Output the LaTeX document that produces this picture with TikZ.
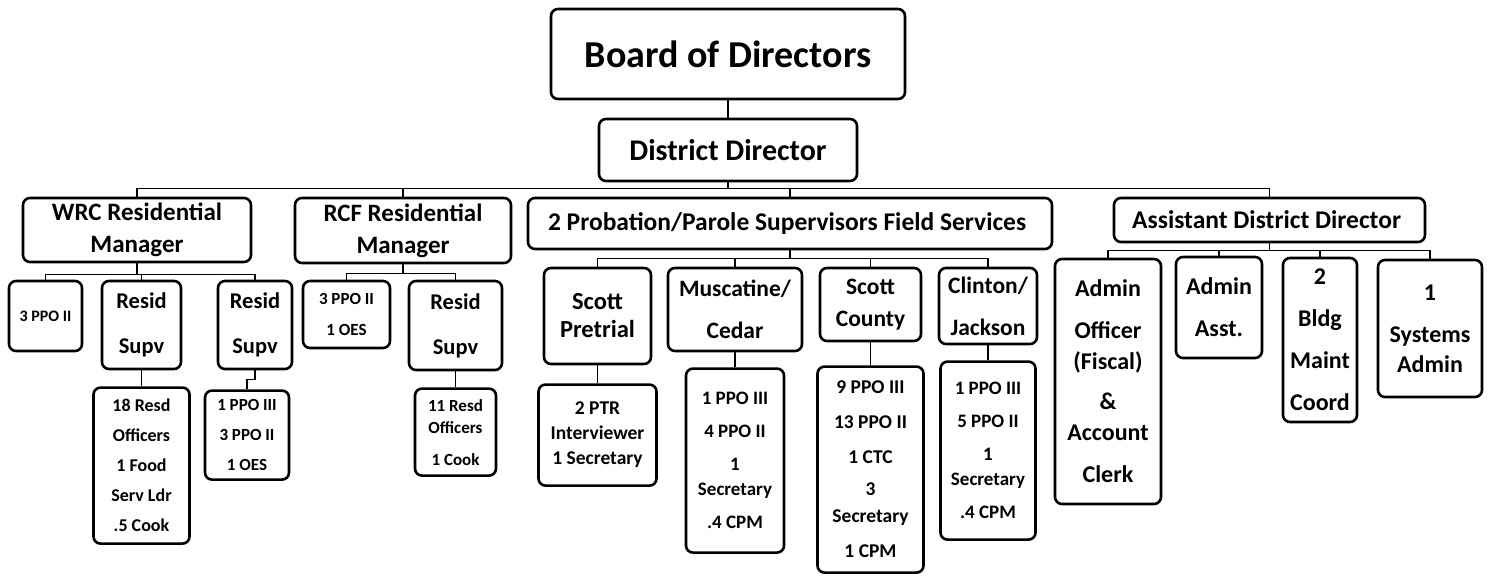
\documentclass[tikz,border=0pt]{standalone}
\usepackage{fontspec}
\setmainfont{Carlito}
\usetikzlibrary{positioning}

\begin{document}
\begin{tikzpicture}[
	x=1pt, y=-1pt,
	nodes = {
		align = center
	},
	box/.style={
		rectangle,
		rounded corners=7pt,
		draw=black,
		line width=2.6pt,
		inner sep=0pt,
		text centered
	},
	sz/.style 2 args={
		minimum width=#1pt,
		minimum height=#2pt
	},
	txt/.style 2 args={
		font=\fontsize{#1}{#2}\selectfont\bfseries
	},
	link/.style={
		line width=1.5pt
	}
]
	\useasboundingbox (0,0) rectangle (1491,577);

	\node[box, sz={354}{90}, txt={38}{46}] (board) at (728,54) {Board of Directors};
	\node[box, sz={258}{62}, txt={30}{36}] (dd) at (728,150) {District Director};
	%% second level
	\node[box, sz={228}{64}, txt={25}{32}] (wrc) at (137,230) {
		WRC Residential\\
		Manager
	};
	\node[box, sz={216}{65}, txt={25}{32}] (rcf) at (403,230.5) {
		RCF Residential\\
		Manager
	};
	\node[box, sz={524}{51}, txt={25.5}{31}] (prob) at (790,223.5) {
		2 Probation/Parole Supervisors Field Services
	};
	\node[box, sz={311}{44}, txt={25.5}{31}] (asst) at (1269.5,220) {
		Assistant District Director
	};
	%% WRC
	\node[box, sz={73}{70}, txt={16}{20}] (wppo) at (45.5,316) {3 PPO II};
	\node[box, sz={79}{88}, txt={22.5}{45}] (wsup1) at (141.5,325) {Resid\\Supv};
	\node[box, sz={74}{88}, txt={22.5}{45}] (wsup2) at (255,325) {Resid\\Supv};
	\node[box, sz={96}{156}, txt={18}{30}] (wres) [below=16pt of wsup1] {
		18 Resd\\
		Officers\\
		1 Food\\
		Serv Ldr\\
		.5 Cook
	};
	\node[box, sz={84}{89}, txt={17}{30}] (wppo3) [below=19pt of wsup2, xshift=-8pt] {
		1 PPO III\\
		3 PPO II\\
		1 OES
	};
	%% RCF
	\node[box, sz={87}{67}, txt={17}{31}] (rppo) at (346.5,314.5) {3 PPO II\\1 OES};
	\node[box, sz={93}{89}, txt={22.5}{45}] (rsup) at (455.5,325.5) {Resid\\Supv};
	\node[box, sz={81}{87}, txt={17}{22}] (rres) [below=16pt of rsup] {
		11 Resd\\
		Officers\\[10pt]
		1 Cook
	};
	%% field services
	\node[box, sz={107}{96}, txt={24.5}{28}] (spre) at (597.5,316) {Scott\\Pretrial};
	\node[box, sz={134}{83}, txt={23.5}{42}] (musc) at (735,309.5) {Muscatine/\\Cedar};
	\node[box, sz={101}{73}, txt={23.5}{32}] (scty) at (870.5,304.5) {Scott\\County};
	\node[box, sz={98}{76}, txt={23.5}{42}] (clin) at (988,306) {Clinton/\\Jackson};
	\node[box, sz={118}{101}, txt={19.5}{25}] (sprel) [below=18pt of spre] {
		2 PTR\\
		Interviewer\\
		1 Secretary
	};
	\node[box, sz={98}{184}, txt={19}{25}] (muscl) [below=15pt of musc] {
		1 PPO III\\[8pt]
		4 PPO II\\[8pt]
		1\\
		Secretary\\[8pt]
		.4 CPM
	};
	\node[box, sz={106}{206}, txt={19.5}{27}] (sctyl) [below=23pt of scty] {
		9 PPO III\\[8pt]
		13 PPO II\\[8pt]
		1 CTC\\[5pt]
		3\\
		Secretary\\[8pt]
		1 CPM
	};
	\node[box, sz={95}{178}, txt={19}{25}] (clinl) [below=15pt of clin] {
		1 PPO III\\[8pt]
		5 PPO II\\[8pt]
		1\\
		Secretary\\[8pt]
		.4 CPM
	};
	%% assistant
	\node[box, sz={106}{245}, txt={24}{31}] (aoff) at (1108,381.5) {
		Admin\\[11pt]
		Officer\\
		(Fiscal)\\[9pt]
		\&\\
		Account\\[11pt]
		Clerk
	};
	\node[box, sz={86}{101}, txt={24}{42}] (aasst) at (1219,307.5) {Admin\\Asst.};
	\node[box, sz={74}{164}, txt={24}{42}] (bldg) at (1320,340) {
		2\\
		Bldg\\
		Maint\\
		Coord
	};
	\node[box, sz={104}{137}, txt={24}{30}] (sys) at (1430,328.5) {
		1\\[12pt]
		Systems\\
		Admin
	};

	\draw[link] (board) -- (dd);
	\foreach \kid in {wrc, rcf, prob, asst}
		\draw[link] (dd.south) -- ++(0,6) -| (\kid.north);
	\foreach \kid in {wppo, wsup1, wsup2}
		\draw[link] (wrc.south) -- ++(0,11) -| (\kid.north);
	\foreach \kid in {rppo, rsup}
		\draw[link] (rcf.south) -- ++(0,9) -| (\kid.north);
	\foreach \kid in {spre, musc, scty, clin}
		\draw[link] (prob.south) -- ++(0,8) -| (\kid.north);
	\foreach \kid in {aoff, aasst, bldg, sys}
		\draw[link] (asst.south) -- ++(0,7) -| (\kid.north);

	\draw[link] (wsup1) -- (wres);
	\draw[link] (wsup2.south) -- ++(0,9) -| (wppo3.north);
	\draw[link] (rsup) -- (rres);
	\draw[link] (spre) -- (sprel);
	\draw[link] (musc) -- (muscl);
	\draw[link] (scty) -- (sctyl);
	\draw[link] (clin) -- (clinl);
\end{tikzpicture}
\end{document}
